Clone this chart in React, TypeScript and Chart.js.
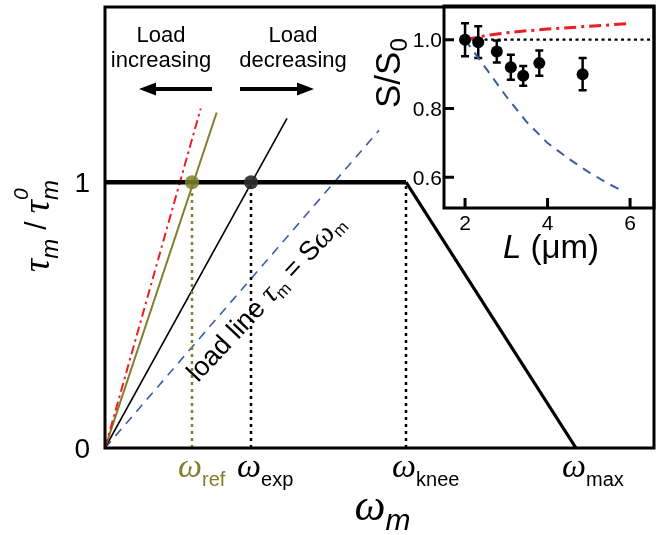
import React, { useEffect, useRef } from 'react';
import { Chart, registerables } from 'chart.js';
Chart.register(...registerables);

// ---------- main chart data ----------
const omegaNames = ['ref', 'exp', 'knee', 'max'];
const omegaValues = [0.87, 1.46, 3.01, 4.71];
const omegaColors = ['#80802c', '#000', '#000', '#000'];
const mainXRange = [0, 5.49];
const mainYRange = [0, 1.659];
const mainYTicks = [0, 1];

const plateauX = [0, 3.01];
const plateauY = [1, 1];
const fallX = [3.01, 4.71];
const fallY = [1, 0];

const redLineX = [0, 0.957];
const redLineY = [0, 1.277];
const oliveLineX = [0, 1.117];
const oliveLineY = [0, 1.262];
const blackLineX = [0, 1.82];
const blackLineY = [0, 1.24];
const blueLineX = [0, 2.74];
const blueLineY = [0, 1.195];

// ---------- inset data ----------
const insetL = [2.0, 2.32, 2.77, 3.11, 3.41, 3.8, 4.85];
const insetS = [1.0, 0.993, 0.966, 0.92, 0.895, 0.932, 0.9];
const insetErr = [0.048, 0.046, 0.032, 0.036, 0.029, 0.037, 0.047];
const redCurveL = [2, 2.5, 3, 3.5, 4, 4.5, 5, 5.5, 6];
const redCurveS = [1.0, 1.012, 1.02, 1.026, 1.031, 1.035, 1.039, 1.043, 1.047];
const blueCurveL = [2, 2.5, 3, 3.5, 4, 4.5, 5, 5.5, 5.8];
const blueCurveS = [1.0, 0.918, 0.835, 0.76, 0.7, 0.655, 0.615, 0.58, 0.562];
const refLineL = [2, 6.58];
const refLineS = [1, 1];
const insetXTicks = [2, 4, 6];
const insetYTicks = [0.6, 0.8, 1.0];
const insetXRange = [1.49, 6.58];
const insetYRange = [0.511, 1.098];

const SANS = '"Liberation Sans", Arial, sans-serif';
const SERIF = '"Liberation Serif", "Times New Roman", serif';
const OLIVE = '#80802c';
const RED = '#ee1c24';
const BLUE = '#3b5ba9';

const pts = (xs: number[], ys: number[]) => xs.map((x, i) => ({ x, y: ys[i] }));

type Run = { text: string; font: string; dy?: number; color?: string; noAdvance?: boolean };
function drawRuns(ctx: CanvasRenderingContext2D, x: number, y: number, runs: Run[]) {
  let cx = x;
  ctx.textAlign = 'left';
  ctx.textBaseline = 'alphabetic';
  for (const r of runs) {
    ctx.font = r.font;
    ctx.fillStyle = r.color || '#000';
    ctx.fillText(r.text, cx, y + (r.dy || 0));
    if (!r.noAdvance) cx += ctx.measureText(r.text).width;
  }
  return cx - x;
}

function arrow(ctx: CanvasRenderingContext2D, x0: number, x1: number, y: number) {
  const dir = Math.sign(x1 - x0);
  const headLen = 17;
  ctx.save();
  ctx.strokeStyle = '#000';
  ctx.fillStyle = '#000';
  ctx.lineWidth = 4;
  ctx.beginPath();
  ctx.moveTo(x0, y);
  ctx.lineTo(x1 - dir * headLen + dir, y);
  ctx.stroke();
  ctx.beginPath();
  ctx.moveTo(x1, y);
  ctx.lineTo(x1 - dir * headLen, y - 6.5);
  ctx.lineTo(x1 - dir * headLen, y + 6.5);
  ctx.closePath();
  ctx.fill();
  ctx.restore();
}

const mainPlugin = {
  id: 'mainDecor',
  afterDraw(chart: any) {
    const { ctx, chartArea: a, scales } = chart;
    const sx = scales.x, sy = scales.y;
    ctx.save();
    // frame
    ctx.strokeStyle = '#000';
    ctx.lineWidth = 3;
    ctx.strokeRect(a.left, a.top, a.right - a.left, a.bottom - a.top);
    // y tick labels
    ctx.font = `28px ${SANS}`;
    ctx.fillStyle = '#000';
    ctx.textAlign = 'right';
    ctx.textBaseline = 'alphabetic';
    for (const v of mainYTicks) ctx.fillText(String(v), a.left - 15, sy.getPixelForValue(v) + 10);
    // omega tick labels
    omegaValues.forEach((v, i) => {
      const px = sx.getPixelForValue(v) - 2;
      ctx.font = `italic 34px ${SERIF}`;
      const w = ctx.measureText('\u03c9').width;
      drawRuns(ctx, px - w / 2, a.bottom + 29, [
        { text: '\u03c9', font: `italic 34px ${SERIF}`, color: omegaColors[i] },
        { text: omegaNames[i], font: `20px ${SANS}`, dy: 9, color: omegaColors[i] },
      ]);
    });
    // x title
    const cx = (a.left + a.right) / 2;
    drawRuns(ctx, cx - 25, a.bottom + 72, [
      { text: '\u03c9', font: `italic 44px ${SERIF}` },
      { text: 'm', font: `italic 30px ${SANS}`, dy: 10 },
    ]);
    // y title
    ctx.save();
    ctx.translate(a.left - 56, 272);
    ctx.rotate(-Math.PI / 2);
    drawRuns(ctx, 0, 0, [
      { text: '\u03c4', font: `italic 37px ${SERIF}` },
      { text: 'm', font: `italic 24px ${SANS}`, dy: 9 },
      { text: ' ', font: `32px ${SANS}` },
      { text: '/', font: `30px ${SANS}`, dy: -3 },
      { text: ' ', font: `30px ${SANS}` },
      { text: '\u03c4', font: `italic 37px ${SERIF}` },
      { text: '0', font: `italic 21px ${SANS}`, dy: -21, noAdvance: true },
      { text: 'm', font: `italic 24px ${SANS}`, dy: 9 },
    ]);
    ctx.restore();
    // load annotations
    ctx.font = `22px ${SANS}`;
    ctx.fillStyle = '#000';
    ctx.textAlign = 'center';
    ctx.fillText('Load', 161, 42);
    ctx.fillText('increasing', 161, 67);
    ctx.fillText('Load', 293, 42);
    ctx.fillText('decreasing', 293, 67);
    arrow(ctx, 212, 139, 89);
    arrow(ctx, 240, 314, 89);
    // load line label
    ctx.save();
    ctx.translate(198, 383);
    ctx.rotate(-47 * Math.PI / 180);
    drawRuns(ctx, 0, 0, [
      { text: 'load line ', font: `27px ${SANS}` },
      { text: '\u03c4', font: `italic 30px ${SERIF}` },
      { text: 'm', font: `17px ${SANS}`, dy: 5 },
      { text: ' = S', font: `27px ${SANS}` },
      { text: '\u03c9', font: `italic 30px ${SERIF}` },
      { text: 'm', font: `17px ${SANS}`, dy: 5 },
    ]);
    ctx.restore();
    ctx.restore();
  },
};

const insetPlugin = {
  id: 'insetDecor',
  beforeDatasetsDraw(chart: any) {
    const { ctx, scales } = chart;
    const sx = scales.x, sy = scales.y;
    ctx.save();
    ctx.strokeStyle = '#000';
    ctx.lineWidth = 2.5;
    insetL.forEach((l, i) => {
      const px = sx.getPixelForValue(l);
      const y0 = sy.getPixelForValue(insetS[i] - insetErr[i]);
      const y1 = sy.getPixelForValue(insetS[i] + insetErr[i]);
      ctx.beginPath();
      ctx.moveTo(px, y0); ctx.lineTo(px, y1);
      ctx.moveTo(px - 4, y0); ctx.lineTo(px + 4, y0);
      ctx.moveTo(px - 4, y1); ctx.lineTo(px + 4, y1);
      ctx.stroke();
    });
    ctx.restore();
  },
  afterDraw(chart: any) {
    const { ctx, chartArea: a, scales } = chart;
    const sx = scales.x, sy = scales.y;
    ctx.save();
    ctx.strokeStyle = '#000';
    ctx.lineWidth = 3;
    ctx.strokeRect(a.left, a.top, a.right - a.left, a.bottom - a.top);
    ctx.beginPath();
    for (const t of insetXTicks) {
      const px = sx.getPixelForValue(t);
      ctx.moveTo(px, a.bottom); ctx.lineTo(px, a.bottom - 10);
    }
    for (const t of insetYTicks) {
      const py = sy.getPixelForValue(t);
      ctx.moveTo(a.left, py); ctx.lineTo(a.left + 10, py);
    }
    ctx.stroke();
    ctx.fillStyle = '#000';
    ctx.font = `21px ${SANS}`;
    ctx.textBaseline = 'alphabetic';
    ctx.textAlign = 'center';
    for (const t of insetXTicks) ctx.fillText(String(t), sx.getPixelForValue(t), a.bottom + 22);
    ctx.textAlign = 'right';
    for (const t of insetYTicks) ctx.fillText(t.toFixed(1), a.left - 2, sy.getPixelForValue(t) + 7.5);
    // x title
    drawRuns(ctx, a.left + 59, a.bottom + 50, [
      { text: 'L', font: `italic 33px ${SANS}` },
      { text: ' (\u03bcm)', font: `33px ${SANS}` },
    ]);
    // y title
    ctx.save();
    ctx.translate(a.left - 44, a.top + 102);
    ctx.rotate(-Math.PI / 2);
    drawRuns(ctx, 0, 0, [
      { text: 'S/S', font: `35px ${SANS}` },
      { text: '0', font: `24px ${SANS}`, dy: 7 },
    ]);
    ctx.restore();
    ctx.restore();
  },
};

export default function App() {
  const mainRef = useRef<HTMLCanvasElement>(null);
  const insetRef = useRef<HTMLCanvasElement>(null);

  useEffect(() => {
    const lineDs = (data: any[], color: string, width: number, dash: number[] = []) => ({
      data, showLine: true, borderColor: color, borderWidth: width, borderDash: dash,
      pointRadius: 0, fill: false, borderCapStyle: 'butt',
    });
    const main = new Chart(mainRef.current!, {
      type: 'scatter',
      data: {
        datasets: [
          { data: [{ x: omegaValues[1], y: 1 }], pointRadius: 7, backgroundColor: 'rgba(45,45,45,0.92)', borderWidth: 0 } as any,
          { data: [{ x: omegaValues[0], y: 1 }], pointRadius: 7, backgroundColor: 'rgba(128,128,44,0.85)', borderWidth: 0 } as any,
          lineDs(pts(plateauX, plateauY), '#000', 4.5),
          lineDs(pts(fallX, fallY), '#000', 3.2),
          lineDs(pts([omegaValues[0], omegaValues[0]], [0, 1]), OLIVE, 2.5, [3, 4]),
          lineDs(pts([omegaValues[1], omegaValues[1]], [0, 1]), '#000', 2.5, [3, 4]),
          lineDs(pts([omegaValues[2], omegaValues[2]], [0, 1]), '#000', 2.5, [3, 4]),
          lineDs(pts(redLineX, redLineY), RED, 2, [9, 4, 2.5, 4]),
          lineDs(pts(oliveLineX, oliveLineY), OLIVE, 2),
          lineDs(pts(blackLineX, blackLineY), '#000', 1.6),
          lineDs(pts(blueLineX, blueLineY), BLUE, 1.6, [9, 7]),
        ],
      },
      options: {
        responsive: false,
        animation: false,
        devicePixelRatio: 1,
        events: [],
        layout: { padding: { left: 105, right: 13, top: 5, bottom: 87 } },
        plugins: { legend: { display: false }, tooltip: { enabled: false } },
        scales: {
          x: { type: 'linear', display: false, min: mainXRange[0], max: mainXRange[1] },
          y: { type: 'linear', display: false, min: mainYRange[0], max: mainYRange[1] },
        },
      },
      plugins: [mainPlugin],
    } as any);

    const inset = new Chart(insetRef.current!, {
      type: 'scatter',
      data: {
        datasets: [
          { data: pts(insetL, insetS), pointRadius: 6, backgroundColor: '#000', borderWidth: 0 } as any,
          lineDs(pts(redCurveL, redCurveS), RED, 3, [12, 5, 3, 5]),
          lineDs(pts(blueCurveL, blueCurveS), BLUE, 2, [9, 7]),
          lineDs(pts(refLineL, refLineS), '#000', 2.2, [3, 3.5]),
        ],
      },
      options: {
        responsive: false,
        animation: false,
        devicePixelRatio: 1,
        events: [],
        layout: { padding: { left: 114, right: 13, top: 5, bottom: 72 } },
        plugins: { legend: { display: false }, tooltip: { enabled: false } },
        scales: {
          x: { type: 'linear', display: false, min: insetXRange[0], max: insetXRange[1] },
          y: { type: 'linear', display: false, min: insetYRange[0], max: insetYRange[1] },
        },
      },
      plugins: [insetPlugin],
    } as any);

    return () => { main.destroy(); inset.destroy(); };
  }, []);

  return (
    <div style={{ position: 'absolute', left: 0, top: 0, width: 667, height: 535, background: '#fff' }}>
      <canvas ref={mainRef} width={667} height={535} style={{ position: 'absolute', left: 0, top: 0, width: 667, height: 535 }} />
      <canvas ref={insetRef} width={337} height={280} style={{ position: 'absolute', left: 330, top: 0, width: 337, height: 280 }} />
    </div>
  );
}
